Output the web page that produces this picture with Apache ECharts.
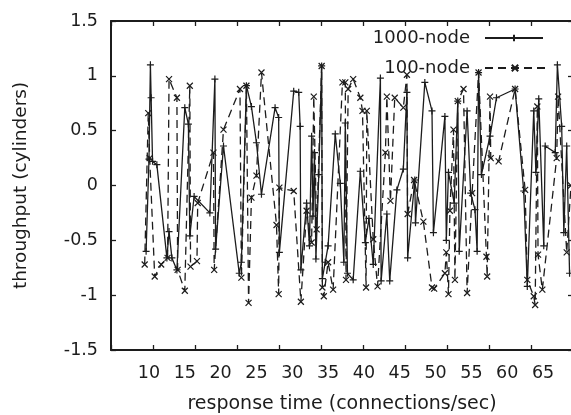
<!DOCTYPE html>
<html>
<head>
<meta charset="utf-8">
<script src="https://cdn.jsdelivr.net/npm/echarts@6/dist/echarts.min.js"></script>
<style>
html,body{margin:0;padding:0;background:#fff;}
#c{width:571px;height:415px;}
</style>
</head>
<body>
<div id="c"></div>
<script>
// x tick labels (response time)
const xLabels = [10, 15, 20, 25, 30, 35, 40, 45, 50, 55, 60, 65];
const yLabels = [-1.5, -1, -0.5, 0, 0.5, 1, 1.5];

// 1000-node series
const node1000X = [9.6,10.0,10.2,10.3,10.5,11.1,12.5,12.8,13.2,13.9,15.0,15.5,15.7,16.3,18.5,19.2,19.3,20.4,22.6,22.9,23.6,24.3,25.0,25.7,27.6,28.1,28.2,30.2,30.9,31.1,31.2,32.0,32.4,32.7,32.9,33.1,33.3,33.7,34.1,34.2,34.6,35.0,36.0,36.7,37.2,37.4,37.7,38.5,39.5,40.2,40.7,41.3,42.3,42.4,43.2,43.6,44.6,45.5,46.0,46.1,47.1,47.2,48.5,49.5,49.7,51.3,51.5,51.8,52.6,53.1,53.3,54.4,54.9,55.5,55.8,56.0,56.4,57.6,58.5,61.1,62.3,62.8,63.7,64.0,64.4,65.1,65.3,66.7,67.0,67.6,67.9,68.3,68.7];
const node1000Y = [-0.60,0.24,1.10,0.80,0.22,0.19,-0.66,-0.42,-0.66,-0.77,0.71,0.56,-0.46,-0.10,-0.25,0.97,-0.58,0.36,-0.80,-0.70,0.91,0.72,0.39,-0.08,0.71,0.62,-0.61,0.86,0.85,0.54,-0.77,-0.16,-0.55,0.45,-0.28,0.30,-0.67,0.10,1.09,-0.85,-0.70,-0.55,0.47,0.02,-0.70,0.57,-0.80,-0.86,0.13,-0.52,-0.30,-0.72,0.98,-0.87,-0.26,-0.87,-0.04,0.15,0.85,-0.66,0.05,-0.34,0.94,0.68,-0.43,0.63,-0.50,0.12,-0.16,0.77,-0.60,0.68,-0.07,-0.22,-0.60,1.03,0.10,0.45,0.80,0.88,-0.05,-0.92,0.68,0.12,0.79,-0.55,0.36,0.30,1.10,0.54,-0.43,0.36,-0.80];

// 100-node series
const node100X = [9.4,9.9,10.1,10.8,11.7,12.6,12.8,13.9,14.0,15.0,15.7,15.8,16.7,16.8,19.0,19.1,20.4,22.7,22.9,23.6,23.9,24.3,25.0,25.7,27.8,28.1,28.2,30.2,31.2,32.0,32.7,33.0,33.4,34.1,34.2,34.4,35.0,35.7,37.0,37.4,37.5,37.8,38.5,39.5,39.8,40.3,40.4,41.3,41.9,43.0,43.2,43.7,44.3,45.5,46.0,46.1,47.0,48.3,49.5,49.8,51.3,51.5,51.8,52.0,52.5,52.7,53.1,53.9,54.4,55.1,56.0,57.1,57.2,57.6,57.7,58.8,61.1,62.5,62.8,63.7,63.9,64.2,64.3,64.9,66.9,67.1,68.3,68.9];
const node100Y = [-0.72,0.66,0.25,-0.83,-0.72,-0.66,0.97,0.80,-0.77,-0.96,0.91,-0.74,-0.69,-0.16,0.30,-0.77,0.51,0.88,-0.84,0.91,-1.07,-0.11,0.09,1.03,-0.36,-0.99,-0.02,-0.05,-1.06,-0.23,-0.52,0.81,-0.40,1.09,-0.93,-1.01,-0.70,-0.95,0.94,0.94,-0.86,0.88,0.97,0.80,0.68,-0.93,0.68,-0.49,-0.92,0.30,0.81,-0.14,0.80,0.71,1.01,-0.26,0.05,-0.33,-0.93,-0.94,-0.80,-0.61,-0.99,-0.23,0.51,-0.86,0.77,0.88,-0.98,-0.07,1.03,-0.65,-0.83,0.81,0.25,0.22,0.88,-0.04,-0.86,-1.01,-1.09,0.72,-0.63,-0.95,0.25,0.81,-0.61,0.0];

const FONT = 'DejaVu Sans';
const INK = '#1c1c1c';
const PLUS = 'path://M5,0L5,10M0,5L10,5';
const CROSS = 'path://M0,0L10,10M10,0L0,10';

function pairs(xs, ys){ return xs.map((x,i)=>[x, ys[i]]); }

const chart = echarts.init(document.getElementById('c'), null, {renderer:'canvas'});
chart.setOption({
  animation:false,
  backgroundColor:'#fff',
  grid:{left:111, right:-2, top:21, bottom:65, containLabel:false, outerBoundsMode:'none'},
  legend:[
    {data:['1000-node'], right:22, top:24, align:'right', itemWidth:58, itemHeight:8, orient:'vertical',
     textStyle:{fontFamily:FONT, fontSize:18, color:INK, padding:[0,10,0,0]}},
    {data:['100-node'], right:20, top:54, align:'right', itemWidth:60, itemHeight:8, orient:'vertical',
     textStyle:{fontFamily:FONT, fontSize:18, color:INK, padding:[0,10,0,0]}}
  ],
  xAxis:[
    { // data/label axis
      type:'value', position:'bottom', min:4.7, max:69.18,
      axisLine:{show:false, onZero:false}, axisTick:{show:false}, splitLine:{show:false},
      axisLabel:{customValues:xLabels, fontFamily:FONT, fontSize:17.5, color:INK, margin:14},
      name:'response time (connections/sec)', nameLocation:'middle', nameGap:45,
      nameTextStyle:{fontFamily:FONT, fontSize:19, color:INK}
    },
    { // bottom frame with ticks
      type:'value', position:'bottom', min:0, max:11, interval:1,
      axisLine:{show:true, onZero:false, lineStyle:{color:INK, width:2}},
      axisTick:{show:true, inside:true, length:5, lineStyle:{color:INK, width:1.3}},
      axisLabel:{show:false}, splitLine:{show:false}
    },
    { // top frame with ticks
      type:'value', position:'top', min:0, max:11, interval:1,
      axisLine:{show:true, onZero:false, lineStyle:{color:INK, width:2}},
      axisTick:{show:true, inside:true, length:5, lineStyle:{color:INK, width:1.3}},
      axisLabel:{show:false}, splitLine:{show:false}
    }
  ],
  yAxis:[
    {
      type:'value', position:'left', min:-1.5, max:1.5, interval:0.5,
      axisLine:{show:true, onZero:false, lineStyle:{color:INK, width:2}},
      axisTick:{show:true, inside:true, length:5, lineStyle:{color:INK, width:1.3}},
      axisLabel:{fontFamily:FONT, fontSize:17.5, color:INK, margin:13},
      splitLine:{show:false},
      name:'throughput (cylinders)', nameLocation:'middle', nameGap:80, nameRotate:90,
      nameTextStyle:{fontFamily:FONT, fontSize:18.5, color:INK}
    },
    {
      type:'value', position:'right', min:-1.5, max:1.5, interval:0.5,
      axisLine:{show:true, onZero:false, lineStyle:{color:INK, width:2}},
      axisTick:{show:true, inside:true, length:5, lineStyle:{color:INK, width:1.3}},
      axisLabel:{show:false}, splitLine:{show:false}
    }
  ],
  series:[
    {
      name:'1000-node', type:'line', xAxisIndex:0, yAxisIndex:0,
      data:pairs(node1000X, node1000Y),
      symbol:PLUS, symbolSize:7, showSymbol:true,
      lineStyle:{color:INK, width:1.3, type:'solid'},
      itemStyle:{color:'rgba(0,0,0,0)', borderColor:INK, borderWidth:1.2},
      emphasis:{disabled:true}
    },
    {
      name:'100-node', type:'line', xAxisIndex:0, yAxisIndex:0,
      data:pairs(node100X, node100Y),
      symbol:CROSS, symbolSize:6, showSymbol:true,
      lineStyle:{color:INK, width:1.3, type:[8,5]},
      itemStyle:{color:'rgba(0,0,0,0)', borderColor:INK, borderWidth:1.2},
      emphasis:{disabled:true}
    }
  ]
});
</script>
</body>
</html>
